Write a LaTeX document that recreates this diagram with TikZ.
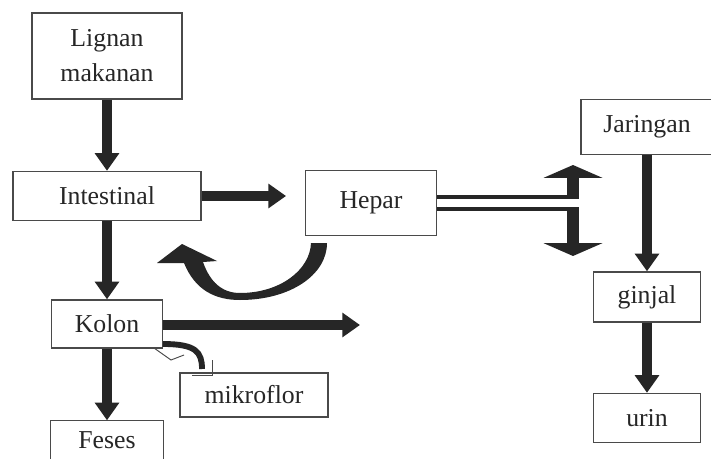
\documentclass[tikz,border=0pt]{standalone}
\usepackage{fontspec}
\setmainfont{Liberation Serif}
\usetikzlibrary{arrows.meta}
\definecolor{inkgray}{HTML}{262626}
\definecolor{boxgray}{HTML}{4A4A4A}

\begin{document}
\begin{tikzpicture}[x=0.03cm, y=-0.03cm,
    box/.style={draw=boxgray, line width=1.2pt, fill=white, text=inkgray,
      font=\fontsize{22}{30}\selectfont, align=center, inner sep=0pt},
    bigarrow/.style={draw=inkgray, line width=8.5pt, -{Triangle[width=20pt,length=15pt]}},
    flatarrow/.style={draw=inkgray, line width=10pt, -{Triangle[width=50pt,length=11pt]}},
    bar/.style={draw=inkgray, line width=2.6pt}]
                      \clip (0,0) rectangle (711,459);
                      \fill[white] (0,0) rectangle (711,459);
                      \node[box, minimum width=4.5cm, minimum height=2.58cm] (lignan) at (107,56) {Lignan\\makanan};
                      \node[box, minimum width=5.64cm, minimum height=1.47cm] (intestinal) at (107,196) {Intestinal};
                      \node[box, minimum width=3.93cm, minimum height=1.95cm] (hepar) at (371,203) {Hepar};
                      \node[box, minimum width=3.96cm, minimum height=1.65cm] (jaringan) at (647,127) {Jaringan};
                      \node[box, minimum width=3.21cm, minimum height=1.5cm] (ginjal) at (647,297) {ginjal};
                      \node[box, minimum width=3.21cm, minimum height=1.47cm] (urin) at (647,418) {urin};
                      \node[box, minimum width=3.33cm, minimum height=1.44cm] (kolon) at (107,324) {Kolon};
                      \node[box, draw=none, minimum width=3.33cm, minimum height=1.14cm] (feses) at (107,440) {Feses};
                      \node[box, minimum width=4.44cm, minimum height=1.32cm] (mikroflor) at (254,395) {mikroflor};
                      \draw[boxgray, line width=1.2pt] ([yshift=-2pt]feses.south west) -- (feses.north west) -- (feses.north east) -- ([yshift=-2pt]feses.south east);
                      \coordinate (kolonout) at (360,325);
                      \coordinate (jointop) at (573,197);
                      \coordinate (joinbot) at (573,209);
                      \coordinate (uptip) at (573,165);
                      \coordinate (downtip) at (573,256);
                      \draw[bigarrow] (lignan) -- (intestinal);
                      \draw[bigarrow] (intestinal) -- (kolon);
                      \draw[bigarrow] (kolon) -- (feses);
                      \draw[bigarrow, shorten >=16pt] (intestinal.east) -- (intestinal.east -| hepar.west);
                      \draw[bigarrow] (kolon.east |- kolonout) -- (kolonout);
                      \draw[bigarrow] (jaringan) -- (ginjal);
                      \draw[bigarrow] (ginjal) -- (urin);
                      \draw[bar] (hepar.east |- jointop) -- ([xshift=5pt]jointop);
                      \draw[bar] (hepar.east |- joinbot) -- ([xshift=5pt]joinbot);
                      \draw[flatarrow] ([yshift=-1pt]jointop) -- (uptip);
                      \draw[flatarrow] ([yshift=1pt]joinbot) -- (downtip);
                      \fill[inkgray] (182,244) -- (217,261) -- (203,262)
                        .. controls (210,282) and (222,293) .. (240,293)
                        .. controls (280,293) and (310,270) .. (311,243) -- (327,243)
                        .. controls (327,275) and (290,300) .. (240,300)
                        .. controls (215,300) and (195,290) .. (184,263) -- (157,263) -- cycle;
                      \draw[inkgray, line width=5pt] (163,344) .. controls (196,344) and (202,352) .. (202,369);
                      \draw[boxgray, line width=0.8pt] (154,348) -- (171,360) -- (184,355);
                      \draw[boxgray, line width=0.8pt] (212,360) -- (212,375) -- (192,375);
                  \end{tikzpicture}
\end{document}
